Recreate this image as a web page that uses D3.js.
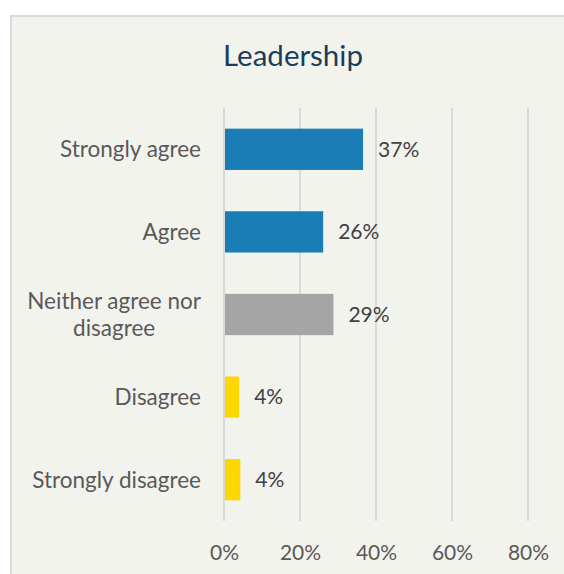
<!DOCTYPE html>
<html>
<head>
<meta charset="utf-8">
<script src="https://cdn.jsdelivr.net/npm/d3@7"></script>
<style>
  html, body { margin: 0; padding: 0; background: #ffffff; }
  svg { display: block; }
  text { font-family: Lato, "Open Sans", sans-serif; }
</style>
</head>
<body>
<svg id="chart" width="564" height="574"></svg>
<script>
// Survey responses for the "Leadership" question
const categories = ["Strongly agree", "Agree", "Neither agree nor disagree", "Disagree", "Strongly disagree"];
const shares = [0.366, 0.261, 0.288, 0.040, 0.043];
const barColors = ["#1a7db5", "#1a7db5", "#a5a5a5", "#ffd700", "#ffd700"];
const tickValues = [0, 0.2, 0.4, 0.6, 0.8];
const categoryLines = {
  "Neither agree nor disagree": ["Neither agree nor", "disagree"]
};

const svg = d3.select("#chart");

// Chart panel with light border on top and left
svg.append("rect")
  .attr("x", 11).attr("y", 16)
  .attr("width", 600).attr("height", 600)
  .attr("fill", "#f3f3ee")
  .attr("stroke", "#d9d9d9")
  .attr("stroke-width", 2);

svg.append("text")
  .attr("x", 293).attr("y", 66)
  .attr("text-anchor", "middle")
  .attr("fill", "#1b3d5c")
  .style("font-size", "29.5px")
  .text("Leadership");

const x = d3.scaleLinear().domain([0, 0.8]).range([224, 528]);
const y = d3.scaleBand().domain(categories).range([108, 521]).paddingInner(0.5).paddingOuter(0.25);

// Vertical gridlines
svg.append("g")
  .selectAll("line")
  .data(tickValues)
  .join("line")
  .attr("x1", d => x(d)).attr("x2", d => x(d))
  .attr("y1", 108).attr("y2", 521)
  .attr("stroke", "#d9d9d9")
  .attr("stroke-width", 2);

// Percentage axis along the bottom
const xAxis = d3.axisBottom(x)
  .tickValues(tickValues)
  .tickFormat(d3.format(".0%"))
  .tickSize(0)
  .tickPadding(0);
const axisG = svg.append("g")
  .attr("transform", "translate(0,553)")
  .call(xAxis);
axisG.select(".domain").remove();
axisG.selectAll("text")
  .attr("fill", "#595959")
  .attr("dy", "0.35em")
  .style("font-size", "21px");

// Bars
svg.append("g")
  .selectAll("rect")
  .data(categories)
  .join("rect")
  .attr("x", x(0) + 1)
  .attr("y", d => y(d))
  .attr("width", (d, i) => x(shares[i]) - x(0) - 1)
  .attr("height", y.bandwidth())
  .attr("fill", (d, i) => barColors[i]);

// Value labels
svg.append("g")
  .selectAll("text")
  .data(categories)
  .join("text")
  .attr("x", (d, i) => x(shares[i]) + 15)
  .attr("y", d => y(d) + y.bandwidth() / 2)
  .attr("dy", "0.35em")
  .attr("fill", "#404040")
  .style("font-size", "21px")
  .text((d, i) => d3.format(".0%")(shares[i]));

// Category labels: block right aligned at the plot edge, wrapped lines centred
const catG = svg.append("g");
const labelRight = 201;
categories.forEach(c => {
  const lines = categoryLines[c] || [c];
  const cy = y(c) + y.bandwidth() / 2;
  const lh = 27;
  const t = catG.append("text")
    .attr("fill", "#595959")
    .style("font-size", "22.5px");
  const spans = lines.map((ln, k) => t.append("tspan")
    .attr("y", cy + (k - (lines.length - 1) / 2) * lh)
    .attr("dy", "0.35em")
    .text(ln));
  if (lines.length === 1) {
    t.attr("text-anchor", "end");
    spans[0].attr("x", labelRight);
  } else {
    const widest = d3.max(spans, s => s.node().getComputedTextLength());
    t.attr("text-anchor", "middle");
    spans.forEach(s => s.attr("x", labelRight - widest / 2));
  }
});
</script>
</body>
</html>
